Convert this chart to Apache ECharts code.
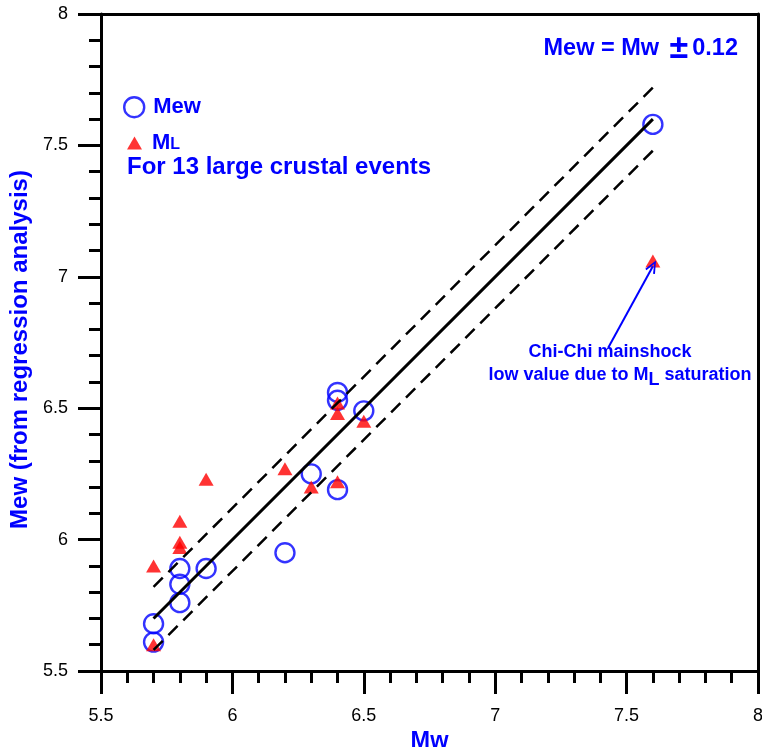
<!DOCTYPE html>
<html>
<head>
<meta charset="utf-8">
<script src="https://cdn.jsdelivr.net/npm/echarts@6/dist/echarts.min.js"></script>
<style>
  html, body { margin: 0; padding: 0; background: #fff; }
  #chart { width: 762px; height: 747px; }
</style>
</head>
<body>
<div id="chart"></div>
<script>
// Moment magnitude Mw of each event (x) and the magnitudes compared against it (y)
const mewMw     = [5.7, 5.7, 5.8, 5.8, 5.8, 5.9, 6.2, 6.3, 6.4, 6.4, 6.4, 6.5, 7.6];
const mewValues = [5.61, 5.68, 5.76, 5.83, 5.89, 5.89, 5.95, 6.25, 6.19, 6.53, 6.56, 6.49, 7.58];
const mlMw      = [5.7, 5.7, 5.8, 5.8, 5.8, 5.9, 6.2, 6.3, 6.4, 6.4, 6.4, 6.5, 7.6];
const mlValues  = [5.6, 5.9, 6.07, 5.97, 5.99, 6.23, 6.27, 6.2, 6.22, 6.52, 6.48, 6.45, 7.06];

// 1:1 line and its ± band
const fitRange = [5.7, 7.6];
const band = 0.12;

// Chi-Chi mainshock arrow (tail, head) in data units
const arrowTail = [7.43, 6.73];
const arrowHead = [7.6, 7.04];

// Axis ranges and tick labels
const axisMin = 5.5, axisMax = 8, axisStep = 0.5;
const tickLabels = ['5.5', '6', '6.5', '7', '7.5', '8'];

const FONT = '"Liberation Sans", Arial, Helvetica, sans-serif';
const BLUE = '#0000ff';
const CIRCLE = '#0000ff';
const RED = '#ff0000';

const pairs = (xs, ys) => xs.map((x, i) => [x, ys[i]]);
const lineOf = (offset) => fitRange.map(x => [x, +(x + offset).toFixed(2)]);
const tickText = v => tickLabels[Math.round((v - axisMin) / axisStep)] ?? '';

function valueAxis(extra) {
  return Object.assign({
    type: 'value',
    min: axisMin,
    max: axisMax,
    interval: axisStep,
    axisLine: { show: true, onZero: false, lineStyle: { color: '#000', width: 3 } },
    axisTick: { show: true, inside: false, length: 23, lineStyle: { color: '#000', width: 3 } },
    minorTick: { show: true, splitNumber: 5, length: 12, lineStyle: { color: '#000', width: 3 } },
    splitLine: { show: false },
    minorSplitLine: { show: false },
    nameLocation: 'middle'
  }, extra);
}

// plain frame edges on the top and right, no ticks or labels
function frameAxis(position) {
  return {
    type: 'value', min: axisMin, max: axisMax, interval: axisStep, position,
    axisLine: { show: true, onZero: false, lineStyle: { color: '#000', width: 3 } },
    axisTick: { show: false }, minorTick: { show: false },
    axisLabel: { show: false }, splitLine: { show: false }, minorSplitLine: { show: false }
  };
}

const chart = echarts.init(document.getElementById('chart'), null, { renderer: 'canvas' });

chart.setOption({
  animation: false,
  backgroundColor: '#fff',
  grid: {
    left: 101, right: 4, top: 14, bottom: 76,
    outerBoundsMode: 'none',
    containLabel: false
  },
  xAxis: [
    valueAxis({
      name: 'Mw', nameGap: 56, position: 'bottom',
      nameTextStyle: { fontFamily: FONT, fontSize: 23.5, fontWeight: 'bold', color: BLUE },
      axisLabel: { margin: 36, fontFamily: FONT, fontSize: 18, color: '#000', formatter: tickText }
    }),
    frameAxis('top')
  ],
  yAxis: [
    valueAxis({
      name: 'Mew (from regression analysis)', nameGap: 64, nameRotate: 90, position: 'left',
      nameTextStyle: { fontFamily: FONT, fontSize: 24, fontWeight: 'bold', color: BLUE, padding: [0, 14, 0, 0] },
      axisLabel: { margin: 33, fontFamily: FONT, fontSize: 18, color: '#000', formatter: tickText }
    }),
    frameAxis('right')
  ],
  legend: [
    {
      data: [{ name: 'Mew', icon: 'circle',
               itemStyle: { color: 'rgba(0,0,0,0)', borderColor: CIRCLE, borderWidth: 2.4 } }],
      left: 123, top: 96, padding: 0,
      itemWidth: 20, itemHeight: 20,
      selectedMode: false,
      textStyle: { fontFamily: FONT, fontSize: 22, fontWeight: 'bold', color: BLUE, padding: [0, 0, 0, 4] }
    },
    {
      data: [{ name: 'ML', icon: 'triangle', itemStyle: { color: RED } }],
      left: 127, top: 132, padding: 0,
      itemWidth: 15, itemHeight: 13,
      selectedMode: false,
      formatter: () => '{m|M}{l|L}',
      textStyle: {
        fontFamily: FONT, fontWeight: 'bold', color: BLUE, padding: [0, 0, 0, 5],
        rich: {
          m: { fontFamily: FONT, fontSize: 22, fontWeight: 'bold', color: BLUE, lineHeight: 22, verticalAlign: 'bottom' },
          l: { fontFamily: FONT, fontSize: 16, fontWeight: 'bold', color: BLUE, lineHeight: 16, verticalAlign: 'bottom', padding: [0, 0, 1, 0] }
        }
      }
    }
  ],
  graphic: [
    {
      type: 'text', left: 127, top: 155,
      style: { text: 'For 13 large crustal events', font: 'bold 24px ' + FONT, fill: BLUE }
    },
    {
      type: 'text', right: 24, top: 32,
      style: {
        text: '{a|Mew = Mw }{pm|±}{a|0.12}',
        rich: {
          a: { font: 'bold 23.5px ' + FONT, fill: BLUE, lineHeight: 30, verticalAlign: 'middle' },
          pm: { font: 'bold 34px ' + FONT, fill: BLUE, lineHeight: 30, verticalAlign: 'middle', padding: [0, 4, 0, 4] }
        }
      }
    },
    {
      type: 'text', x: 610, y: 352,
      style: { text: 'Chi-Chi mainshock', font: 'bold 18px ' + FONT, fill: BLUE,
               align: 'center', verticalAlign: 'middle' }
    },
    {
      type: 'text', x: 620, y: 376,
      style: {
        text: '{t|low value due to M}{s|L}{t| saturation}',
        align: 'center', verticalAlign: 'middle',
        rich: {
          t: { font: 'bold 18px ' + FONT, fill: BLUE, lineHeight: 20, verticalAlign: 'top' },
          s: { font: 'bold 18px ' + FONT, fill: BLUE, lineHeight: 20, verticalAlign: 'top', padding: [5, 0, 0, 0] }
        }
      }
    }
  ],
  series: [
    {
      name: 'Mew', type: 'scatter', z: 2,
      symbol: 'circle', symbolSize: 19,
      itemStyle: { color: 'rgba(0,0,0,0)', borderColor: CIRCLE, borderWidth: 2.4 },
      data: pairs(mewMw, mewValues)
    },
    {
      name: 'ML', type: 'scatter', z: 3,
      symbol: 'triangle', symbolSize: [15, 13],
      itemStyle: { color: RED },
      data: pairs(mlMw, mlValues),
      markLine: {
        silent: true,
        symbol: ['none', 'path://M0,12 L5,0 L10,12 L8.4,12.8 L5,3.6 L1.6,12.8 Z'],
        symbolSize: [11, 13],
        label: { show: false },
        lineStyle: { color: BLUE, width: 2, type: 'solid' },
        itemStyle: { color: BLUE },
        data: [[{ coord: arrowTail }, { coord: arrowHead }]]
      }
    },
    {
      name: 'fit', type: 'line', z: 4, symbol: 'none',
      lineStyle: { color: '#000', width: 3 },
      data: lineOf(0)
    },
    {
      name: 'upper', type: 'line', z: 4, symbol: 'none',
      lineStyle: { color: '#000', width: 2.5, type: [13, 8] },
      data: lineOf(band)
    },
    {
      name: 'lower', type: 'line', z: 4, symbol: 'none',
      lineStyle: { color: '#000', width: 2.5, type: [13, 8] },
      data: lineOf(-band)
    }
  ]
});
</script>
</body>
</html>
